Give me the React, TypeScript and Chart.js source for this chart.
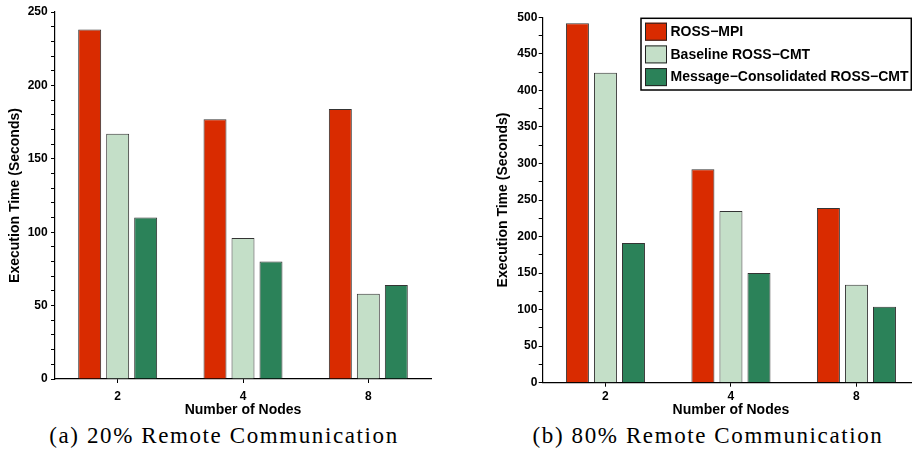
import React, { useEffect, useRef } from "react";
import { Chart, registerables } from "chart.js";

Chart.register(...registerables);

const categories = ["2", "4", "8"];
const seriesNames = ["ROSS\u2212MPI", "Baseline ROSS\u2212CMT", "Message\u2212Consolidated ROSS\u2212CMT"];
const seriesColors = ["#d92b00", "#c4dfc8", "#2b8259"];

const rossMpi20 = [238, 177, 184];
const baseline20 = [167, 96, 58];
const consolidated20 = [110, 80, 64];

const rossMpi80 = [492, 292, 239];
const baseline80 = [424, 235, 134];
const consolidated80 = [191, 150, 104];

const yMax20 = 250;
const yMajor20 = 50;
const yMinor20 = 10;
const yMax80 = 500;
const yMajor80 = 50;
const yMinor80 = 25;

const xTitle = "Number of Nodes";
const yTitle = "Execution Time (Seconds)";
const caption20 = "(a) 20% Remote Communication";
const caption80 = "(b) 80% Remote Communication";

const SANS = '"Liberation Sans", Arial, Helvetica, sans-serif';

const boxLegend = {
  id: "boxLegend",
  afterDraw(chart: any, _args: any, opts: any) {
    if (!opts || !opts.display) return;
    const { ctx } = chart;
    const { x, y, w, h, sw, sh, rowH, padX, padY } = opts;
    ctx.save();
    ctx.fillStyle = "#fff";
    ctx.fillRect(x, y, w, h);
    ctx.lineWidth = 1.5;
    ctx.strokeStyle = "#000";
    ctx.strokeRect(x, y, w, h);
    ctx.font = `bold 14px ${SANS}`;
    ctx.textBaseline = "middle";
    ctx.textAlign = "left";
    chart.data.datasets.forEach((ds: any, i: number) => {
      const sx = x + padX;
      const sy = y + padY + i * rowH;
      ctx.fillStyle = ds.backgroundColor;
      ctx.fillRect(sx, sy, sw, sh);
      ctx.lineWidth = 1;
      ctx.strokeStyle = "#222";
      ctx.strokeRect(sx + 0.5, sy + 0.5, sw - 1, sh - 1);
      ctx.fillStyle = "#000";
      ctx.fillText(ds.label, sx + sw + 3.5, sy + sh / 2 + 0.5);
    });
    ctx.restore();
  },
};

type Cfg = {
  data: number[][];
  yMax: number;
  yMajor: number;
  yMinor: number;
  padTop: number;
  padRight: number;
  yWidth: number;
  xHeight: number;
  xTickPad: number;
  yTickPad: number;
  yTitlePad: number;
  legend: any;
};

function BarChart({ cfg, width, height }: { cfg: Cfg; width: number; height: number }) {
  const ref = useRef<HTMLCanvasElement | null>(null);
  useEffect(() => {
    if (!ref.current) return;
    const chart = new Chart(ref.current, {
      type: "bar",
      data: {
        labels: categories,
        datasets: cfg.data.map((d, i) => ({
          label: seriesNames[i],
          data: d,
          backgroundColor: seriesColors[i],
          borderColor: "rgba(30,30,30,0.9)",
          borderWidth: 1,
          categoryPercentage: 0.67,
          barPercentage: 0.82,
        })),
      },
      options: {
        animation: false,
        responsive: false,
        maintainAspectRatio: false,
        layout: { padding: { top: cfg.padTop, left: 0, right: cfg.padRight, bottom: 0 } },
        plugins: {
          legend: { display: false },
          tooltip: { enabled: false },
          boxLegend: cfg.legend,
        } as any,
        scales: {
          x: {
            offset: true,
            grid: { display: true, offset: false, drawOnChartArea: false, drawTicks: true, tickLength: 4, tickColor: "#000" },
            border: { display: true, color: "#000", width: 1.2 },
            ticks: { color: "#000", font: { family: SANS, size: 12, weight: "bold" }, padding: cfg.xTickPad },
            title: {
              display: true,
              text: xTitle,
              color: "#000",
              font: { family: SANS, size: 14, weight: "bold" },
              padding: { top: 0, bottom: 1.6 },
            },
            afterFit: (s: any) => {
              s.height = cfg.xHeight;
            },
          },
          y: {
            min: 0,
            max: cfg.yMax,
            grid: { display: true, drawOnChartArea: false, drawTicks: true, tickLength: 4, tickColor: "#000" },
            border: { display: true, color: "#000", width: 1.2 },
            ticks: {
              stepSize: cfg.yMinor,
              autoSkip: false,
              color: "#000",
              font: { family: SANS, size: 12, weight: "bold" },
              padding: cfg.yTickPad,
              callback: (v: any) => (Number(v) % cfg.yMajor === 0 ? String(v) : ""),
            },
            title: {
              display: true,
              text: yTitle,
              color: "#000",
              font: { family: SANS, size: 14, weight: "bold" },
              padding: { top: cfg.yTitlePad, bottom: 0 },
            },
            afterFit: (s: any) => {
              s.width = cfg.yWidth;
            },
          },
        },
      },
      plugins: [boxLegend],
    } as any);
    return () => chart.destroy();
  }, []);
  return <canvas ref={ref} width={width} height={height} style={{ display: "block", width, height }} />;
}

const leftCfg: Cfg = {
  data: [rossMpi20, baseline20, consolidated20],
  yMax: yMax20,
  yMajor: yMajor20,
  yMinor: yMinor20,
  padTop: 12,
  padRight: 9,
  yWidth: 55,
  xHeight: 41,
  xTickPad: 6.5,
  yTickPad: 3.3,
  yTitlePad: 6.6,
  legend: { display: false },
};

const rightCfg: Cfg = {
  data: [rossMpi80, baseline80, consolidated80],
  yMax: yMax80,
  yMajor: yMajor80,
  yMinor: yMinor80,
  padTop: 17.3,
  padRight: 0.8,
  yWidth: 82.7,
  xHeight: 37.3,
  xTickPad: 2.8,
  yTickPad: 1.4,
  yTitlePad: 34.9,
  legend: { display: true, x: 181, y: 18.3, w: 270.3, h: 71.7, sw: 22, sh: 18, rowH: 22.7, padX: 4, padY: 4.4 },
};

const captionStyle: React.CSSProperties = {
  position: "absolute",
  top: 424,
  fontFamily: '"Liberation Serif", "Times New Roman", serif',
  fontSize: 23,
  lineHeight: "23px",
  letterSpacing: "1.6px",
  whiteSpace: "nowrap",
  color: "#000",
  transform: "translateX(-50%)",
};

export default function App() {
  return (
    <div style={{ position: "absolute", left: 0, top: 0, width: 912, height: 452, overflow: "hidden", background: "#fff" }}>
      <div style={{ position: "absolute", left: 0, top: 0 }}>
        <BarChart cfg={leftCfg} width={440} height={420} />
      </div>
      <div style={{ position: "absolute", left: 460, top: 0 }}>
        <BarChart cfg={rightCfg} width={460} height={420} />
      </div>
      <div style={{ ...captionStyle, left: 224 }}>{caption20}</div>
      <div style={{ ...captionStyle, left: 708 }}>{caption80}</div>
    </div>
  );
}
